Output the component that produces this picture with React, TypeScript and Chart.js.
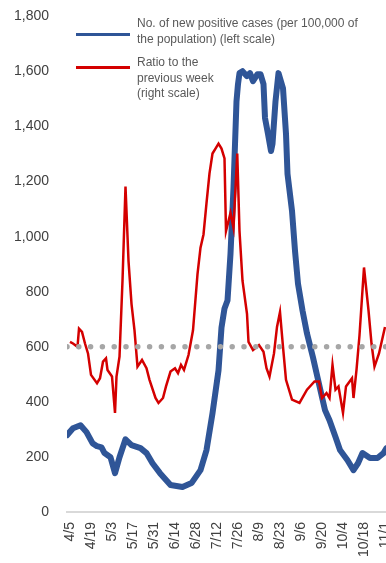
import React, { useEffect, useRef } from "react";
import { Chart, registerables } from "chart.js";

Chart.register(...registerables);

// day 0 = 4/3
const tickDays = [2, 16, 30, 44, 58, 72, 86, 100, 114, 128, 142, 156, 170, 184, 198, 212];
const tickLabels = ["4/5", "4/19", "5/3", "5/17", "5/31", "6/14", "6/28", "7/12", "7/26", "8/9", "8/23", "9/6", "9/20", "10/4", "10/18", "11/1"];

const caseDays = [0, 4, 9, 13, 17, 20, 23, 25, 29, 32, 35, 39, 43, 49, 53, 57, 62, 69, 77, 83, 89, 93, 97, 101, 103, 105, 107, 109, 111, 113, 114, 115, 117, 120, 122, 124, 127, 129, 131, 132, 134, 136, 137, 139, 141, 144, 146, 147, 150, 152, 154, 157, 160, 164, 167, 170, 172, 175, 179, 182, 187, 191, 194, 197, 202, 207, 211, 213];
const caseValues = [279, 304, 315, 290, 250, 239, 235, 214, 199, 141, 199, 264, 243, 232, 214, 177, 141, 98, 91, 105, 152, 225, 359, 514, 670, 739, 768, 938, 1177, 1492, 1554, 1594, 1601, 1583, 1594, 1565, 1590, 1590, 1554, 1431, 1373, 1311, 1337, 1492, 1594, 1539, 1373, 1228, 1094, 949, 829, 732, 648, 561, 489, 417, 370, 333, 272, 225, 188, 152, 177, 214, 196, 196, 214, 232];

const ratioDays = [2, 4, 7, 8, 10, 12, 14, 16, 20, 22, 24, 26, 27, 30, 32, 33, 35, 37, 39, 41, 43, 45, 47, 50, 53, 55, 59, 61, 64, 66, 69, 72, 74, 76, 78, 81, 84, 87, 89, 91, 93, 95, 97, 99, 101, 103, 105, 106, 109, 111, 113.5, 115, 117, 120, 121, 124, 128, 131, 133, 135, 138, 140, 142, 144, 146, 150, 155, 160, 165, 168, 170, 173, 175, 177, 179, 181, 184, 186, 190, 191, 193, 195, 198, 201, 203, 205, 208, 212];
const ratioValues = [1.03, 1.02, 1.0, 1.11, 1.09, 1.02, 0.96, 0.83, 0.78, 0.81, 0.91, 0.93, 0.86, 0.82, 0.6, 0.82, 0.94, 1.4, 1.97, 1.52, 1.26, 1.1, 0.88, 0.92, 0.87, 0.8, 0.69, 0.66, 0.69, 0.76, 0.85, 0.87, 0.84, 0.89, 0.86, 0.95, 1.1, 1.44, 1.6, 1.68, 1.87, 2.05, 2.17, 2.2, 2.23, 2.2, 2.14, 1.7, 1.81, 1.72, 2.17, 1.7, 1.4, 1.2, 1.03, 0.98, 1.01, 0.97, 0.87, 0.82, 0.96, 1.12, 1.21, 1.0, 0.8, 0.68, 0.66, 0.74, 0.79, 0.79, 0.69, 0.72, 0.69, 0.89, 0.74, 0.76, 0.6, 0.76, 0.81, 0.69, 0.86, 1.07, 1.48, 1.22, 1.02, 0.88, 0.96, 1.12];

const baselineDays = [0, 230];
const baselineValues = [1, 1];

const FONT = "'Liberation Sans', Arial, sans-serif";

export default function App() {
  const ref = useRef<HTMLCanvasElement | null>(null);
  useEffect(() => {
    if (!ref.current) return;
    const chart = new Chart(ref.current, {
      type: "line",
      data: {
        datasets: [
          {
            label: "baseline",
            data: baselineDays.map((d, i) => ({ x: d, y: baselineValues[i] })),
            yAxisID: "y1",
            borderColor: "#A6A6A6",
            borderWidth: 5.5,
            borderDash: [0, 11.8],
            borderCapStyle: "round",
            pointRadius: 0,
            order: 0,
          },
          {
            label: "Ratio to the previous week (right scale)",
            data: ratioDays.map((d, i) => ({ x: d, y: ratioValues[i] })),
            yAxisID: "y1",
            borderColor: "#D40000",
            borderWidth: 2.5,
            pointRadius: 0,
            tension: 0,
            order: 1,
          },
          {
            label: "No. of new positive cases (per 100,000 of the population) (left scale)",
            data: caseDays.map((d, i) => ({ x: d, y: caseValues[i] })),
            yAxisID: "y",
            borderColor: "#2F5597",
            borderWidth: 6,
            borderJoinStyle: "round",
            borderCapStyle: "round",
            pointRadius: 0,
            tension: 0,
            order: 2,
          },
        ],
      },
      options: {
        responsive: false,
        animation: false,
        devicePixelRatio: 1,
        layout: { padding: { top: 7, left: 0, right: 0, bottom: 0 } },
        plugins: { legend: { display: false }, tooltip: { enabled: false } },
        scales: {
          x: {
            type: "linear",
            min: 0,
            max: 230,
            grid: { display: false, drawTicks: false },
            border: { display: true, color: "#D9D9D9", width: 2 },
            afterBuildTicks: (scale: any) => {
              scale.ticks = tickDays.map((v) => ({ value: v }));
            },
            afterFit: (scale: any) => {
              scale.height = 51;
            },
            ticks: {
              autoSkip: false,
              minRotation: 90,
              maxRotation: 90,
              padding: 10,
              color: "#404040",
              font: { family: FONT, size: 14 },
              callback: (value: any) => {
                const i = tickDays.indexOf(Number(value));
                return i >= 0 ? tickLabels[i] : "";
              },
            },
          },
          y: {
            position: "left",
            min: 0,
            max: 1800,
            grid: { display: false, drawTicks: false },
            border: { display: false },
            afterFit: (scale: any) => {
              scale.width = 67;
            },
            ticks: {
              stepSize: 200,
              padding: 18,
              color: "#404040",
              font: { family: FONT, size: 14 },
              callback: (value: any) => Number(value).toLocaleString("en-US"),
            },
          },
          y1: {
            position: "right",
            display: false,
            min: 0,
            max: 3,
          },
        },
      },
    } as any);
    return () => chart.destroy();
  }, []);

  const legendText: React.CSSProperties = {
    position: "absolute",
    left: 137,
    fontFamily: FONT,
    fontSize: 12,
    lineHeight: "15.5px",
    color: "#595959",
    whiteSpace: "nowrap",
  };
  const sample = (top: number, color: string): React.CSSProperties => ({
    position: "absolute",
    left: 76,
    top: top - 1.5,
    width: 54,
    height: 3,
    background: color,
  });

  return (
    <div
      style={{
        position: "fixed",
        left: 0,
        top: 0,
        width: 386,
        height: 563,
        overflow: "hidden",
        background: "#FFFFFF",
      }}
    >
      <canvas ref={ref} width={412} height={573} style={{ position: "absolute", left: 0, top: -10, display: "block" }} />
      <div style={sample(34, "#2F5597")} />
      <div style={sample(67, "#D40000")} />
      <div style={{ ...legendText, top: 16 }}>
        No. of new positive cases (per 100,000 of
        <br />
        the population) (left scale)
      </div>
      <div style={{ ...legendText, top: 55 }}>
        Ratio to the
        <br />
        previous week
        <br />
        (right scale)
      </div>
    </div>
  );
}
